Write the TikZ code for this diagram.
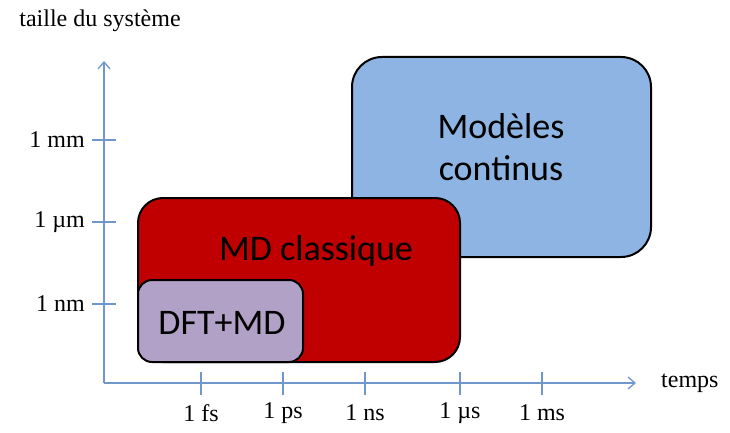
\documentclass[tikz,border=0pt]{standalone}
\usepackage{fontspec}
\setmainfont{Liberation Serif}
\newfontfamily\boxfont{Carlito}
\usetikzlibrary{arrows.meta}
\definecolor{axisblue}{HTML}{6F97CB}
\definecolor{contblue}{HTML}{8DB4E2}
\definecolor{mdred}{HTML}{C00000}
\definecolor{dftlilac}{HTML}{B2A1C7}
\tikzset{
  region/.style={draw=black, line width=2pt},
  axisline/.style={draw=axisblue, line width=1.3pt},
  axislabel/.style={font=\fontsize{24}{28}\selectfont, text=black, inner sep=0pt},
  boxlabel/.style={font=\boxfont\fontsize{36}{42}\selectfont, text=black, align=center},
}
\begin{document}
\begin{tikzpicture}[x=1pt, y=-1pt]
\useasboundingbox (0,0) rectangle (730,433);
% regions
\draw[region, fill=contblue, rounded corners=30pt] (352,57) rectangle (651,257);
\draw[region, fill=mdred, rounded corners=25pt] (138,198) rectangle (460,362);
\draw[region, fill=dftlilac, rounded corners=14pt] (138,280) rectangle (303,362);
\node[boxlabel] (cont) at (501,147) {Modèles\\continus};
\node[boxlabel] (mdc) at (316,251) {MD classique};
\node[boxlabel] (dft) at (222,323) {DFT+MD};
% axes
\coordinate (o) at (104,383);
\coordinate (ytop) at (104,61);
\coordinate (xend) at (636,383);
\draw[axisline, -{Straight Barb[length=7pt,width=12pt]}] (o) -- (ytop);
\draw[axisline, -{Straight Barb[length=7pt,width=12pt]}] (o) -- (xend);
\node[axislabel] (ylab) at (100,21) {taille du système};
\node[axislabel, anchor=west] (xlab) at (661,383) {temps};
% y ticks
\foreach \y/\t/\n in {140/1 mm/ymm, 222/1 µm/yum, 304/1 nm/ynm}{
  \coordinate (\n a) at (92,\y);
  \coordinate (\n b) at (116,\y);
  \draw[axisline] (\n a) -- (\n b);
  \node[axislabel, anchor=east] (\n) at (85,\y) {\t};
}
% x ticks
\foreach \x/\t/\n in {201/1 fs/xfs, 283/1 ps/xps, 365/1 ns/xns, 460/1 µs/xus, 542/1 ms/xms}{
  \coordinate (\n a) at (\x,372);
  \coordinate (\n b) at (\x,395);
  \draw[axisline] (\n a) -- (\n b);
  \node[axislabel] (\n) at (\x,413) {\t};
}
\end{tikzpicture}
\end{document}
